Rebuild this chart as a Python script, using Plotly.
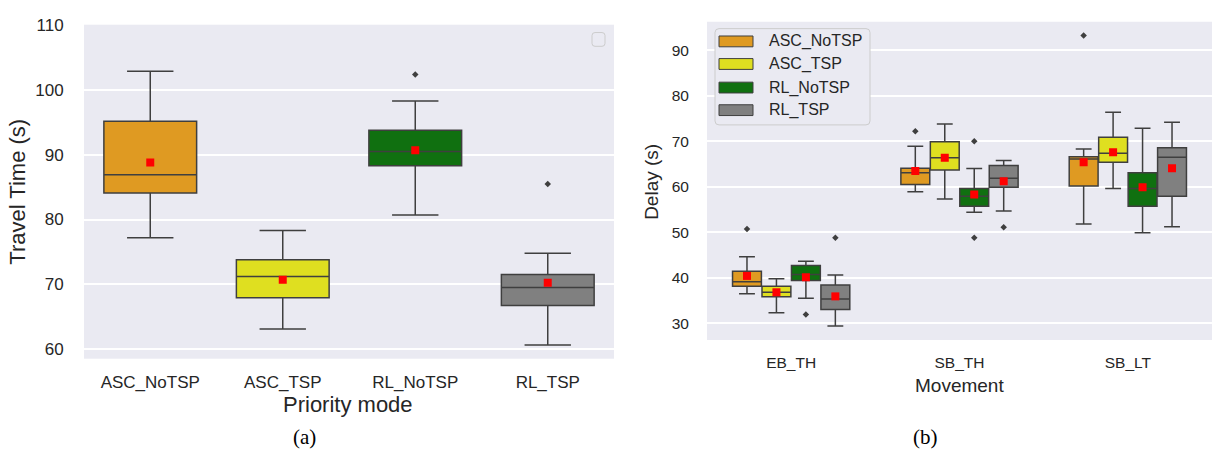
import plotly.graph_objects as go

W, H = 1214, 452

modes = ["ASC_NoTSP", "ASC_TSP", "RL_NoTSP", "RL_TSP"]
colors = ["#DF9A22", "#DFDF20", "#107010", "#808080"]

# (a) Travel time by priority mode
tt_upper = [102.9, 78.3, 98.3, 74.8]
tt_q3 = [95.2, 73.8, 93.8, 71.5]
tt_median = [86.9, 71.2, 90.5, 69.5]
tt_q1 = [84.1, 67.9, 88.3, 66.7]
tt_lower = [77.2, 63.1, 80.7, 60.6]
tt_mean = [88.8, 70.7, 90.7, 70.25]
tt_outliers = [[], [], [102.4], [85.5]]

# (b) Delay by movement; rows = mode, cols = movement
movements = ["EB_TH", "SB_TH", "SB_LT"]
d_upper = [[44.6, 68.9, 68.3], [39.8, 73.8, 76.4], [43.6, 64.0, 72.9], [40.6, 65.8, 74.2]]
d_q3 = [[41.4, 64.1, 66.6], [38.1, 69.9, 70.9], [42.7, 59.6, 63.1], [38.4, 64.7, 68.6]]
d_median = [[39.1, 63.1, 66.1], [36.8, 66.4, 67.4], [40.7, 57.9, 59.6], [35.3, 61.9, 66.5]]
d_q1 = [[38.1, 60.5, 60.2], [35.8, 63.7, 65.4], [39.4, 55.7, 55.7], [33.0, 59.9, 57.9]]
d_lower = [[36.5, 58.9, 51.8], [32.3, 57.3, 59.6], [35.5, 54.4, 49.9], [29.4, 54.7, 51.2]]
d_mean = [[40.4, 63.5, 65.4], [36.8, 66.4, 67.6], [40.1, 58.3, 59.9], [35.9, 61.2, 64.1]]
d_outliers = [[[50.7], [72.2], [93.3]],
              [[], [], []],
              [[31.9], [70.0, 48.8], []],
              [[48.8], [51.1], []]]

LINE = "#3F3F3F"
FONT = "Liberation Sans, Arial, sans-serif"
TICKC = "#262626"


def px(x):
    return x / W


def py(y):
    return 1 - y / H


fig = go.Figure()

# ---------- (a) ----------
for i, m in enumerate(modes):
    fig.add_trace(go.Box(
        x=[i], q1=[tt_q1[i]], median=[tt_median[i]], q3=[tt_q3[i]],
        lowerfence=[tt_lower[i]], upperfence=[tt_upper[i]],
        width=0.7, whiskerwidth=0.5, fillcolor=colors[i],
        line=dict(color=LINE, width=1.5), boxpoints=False,
        showlegend=False, xaxis="x", yaxis="y", hoverinfo="skip"))
    if tt_outliers[i]:
        fig.add_trace(go.Scatter(
            x=[i] * len(tt_outliers[i]), y=tt_outliers[i], mode="markers",
            marker=dict(symbol="diamond", size=5, color=LINE),
            showlegend=False, xaxis="x", yaxis="y"))
fig.add_trace(go.Scatter(
    x=list(range(len(modes))), y=tt_mean, mode="markers",
    marker=dict(symbol="square", size=8, color="red"),
    showlegend=False, xaxis="x", yaxis="y"))

# ---------- (b) ----------
bw = 0.175
for i, m in enumerate(modes):
    off = (i - 1.5) * bw
    xs = [j + off for j in range(len(movements))]
    fig.add_trace(go.Box(
        x=xs, q1=d_q1[i], median=d_median[i], q3=d_q3[i],
        lowerfence=d_lower[i], upperfence=d_upper[i],
        width=bw * 0.98, whiskerwidth=0.55, fillcolor=colors[i],
        line=dict(color=LINE, width=1.5), boxpoints=False,
        showlegend=False, xaxis="x2", yaxis="y2", hoverinfo="skip"))
    ox, oy = [], []
    for j in range(len(movements)):
        for v in d_outliers[i][j]:
            ox.append(j + off)
            oy.append(v)
    if ox:
        fig.add_trace(go.Scatter(
            x=ox, y=oy, mode="markers",
            marker=dict(symbol="diamond", size=5, color=LINE),
            showlegend=False, xaxis="x2", yaxis="y2"))
    fig.add_trace(go.Scatter(
        x=xs, y=d_mean[i], mode="markers",
        marker=dict(symbol="square", size=8, color="red"),
        showlegend=False, xaxis="x2", yaxis="y2"))

tf_a = dict(family=FONT, size=17, color=TICKC)
tf_b = dict(family=FONT, size=15.5, color=TICKC)

fig.update_layout(
    width=W, height=H, margin=dict(l=0, r=0, t=0, b=0),
    paper_bgcolor="white", plot_bgcolor="#EAEAF2",
    showlegend=False, boxmode="overlay",
    xaxis=dict(domain=[px(84), px(614)], anchor="y", range=[-0.5, 3.5],
               tickvals=list(range(len(modes))), ticktext=modes,
               showgrid=False, ticks="outside", ticklen=8, showline=False, zeroline=False,
               tickcolor="rgba(0,0,0,0)", tickfont=tf_a),
    yaxis=dict(domain=[py(357), py(17)], anchor="x", range=[58.5, 110.1],
               dtick=10, showgrid=True, gridcolor="white", gridwidth=1.5,
               ticks="outside", ticklen=16, tickcolor="rgba(0,0,0,0)",
               showline=False, zeroline=False, tickfont=tf_a),
    xaxis2=dict(domain=[px(707), px(1212)], anchor="y2", range=[-0.5, 2.5],
                tickvals=list(range(len(movements))), ticktext=movements,
                showgrid=False, ticks="outside", ticklen=8, showline=False, zeroline=False,
                tickcolor="rgba(0,0,0,0)", tickfont=tf_b),
    yaxis2=dict(domain=[py(338), py(14)], anchor="x2", range=[26.3, 96.3],
                dtick=10, showgrid=True, gridcolor="white", gridwidth=1.5,
                ticks="outside", ticklen=14, tickcolor="rgba(0,0,0,0)",
                showline=False, zeroline=False, tickfont=tf_b),
)

ann = []
title_a = dict(family=FONT, size=22, color=TICKC)
title_b = dict(family=FONT, size=19, color=TICKC)
ann.append(dict(text="Travel Time (s)", x=px(18), y=py(187), xref="paper", yref="paper",
                textangle=-90, showarrow=False, font=title_a, xanchor="center", yanchor="middle"))
ann.append(dict(text="Priority mode", x=px(348), y=py(404), xref="paper", yref="paper",
                showarrow=False, font=title_a, xanchor="center", yanchor="middle"))
ann.append(dict(text="Delay (s)", x=px(652), y=py(177), xref="paper", yref="paper",
                textangle=-90, showarrow=False, font=title_b, xanchor="center", yanchor="middle"))
ann.append(dict(text="Movement", x=px(959), y=py(384), xref="paper", yref="paper",
                showarrow=False, font=title_b, xanchor="center", yanchor="middle"))
cap_font = dict(family="Liberation Serif, Times New Roman, serif", size=21, color="black")
ann.append(dict(text="(a)", x=px(304), y=py(437), xref="paper", yref="paper",
                showarrow=False, font=cap_font, xanchor="center", yanchor="middle"))
ann.append(dict(text="(b)", x=px(925), y=py(437), xref="paper", yref="paper",
                showarrow=False, font=cap_font, xanchor="center", yanchor="middle"))

shapes = []


def path_paper(x0, y0, x1, y1, r):
    rx = r / W
    ry = r / H
    X0, X1 = px(x0), px(x1)
    Y0, Y1 = py(y0), py(y1)
    return (f"M {X0 + rx},{Y0} L {X1 - rx},{Y0} Q {X1},{Y0} {X1},{Y0 - ry} "
            f"L {X1},{Y1 + ry} Q {X1},{Y1} {X1 - rx},{Y1} L {X0 + rx},{Y1} "
            f"Q {X0},{Y1} {X0},{Y1 + ry} L {X0},{Y0 - ry} Q {X0},{Y0} {X0 + rx},{Y0} Z")


# empty legend frame in (a)
shapes.append(dict(type="path", xref="paper", yref="paper",
                   path=path_paper(592, 25, 605, 39, 3),
                   line=dict(color="#CCCCCC", width=1), fillcolor="#EAEAF2"))

# legend in (b)
shapes.append(dict(type="path", xref="paper", yref="paper",
                   path=path_paper(715, 21, 870, 119, 4),
                   line=dict(color="#CCCCCC", width=1), fillcolor="#EAEAF2"))
leg_y = [34, 57, 81, 104]
for i, m in enumerate(modes):
    shapes.append(dict(type="rect", xref="paper", yref="paper",
                       x0=px(719), x1=px(753), y0=py(leg_y[i] + 5.5), y1=py(leg_y[i] - 5.5),
                       fillcolor=colors[i], line=dict(color=LINE, width=1)))
    ann.append(dict(text=m, x=px(767), y=py(leg_y[i]), xref="paper", yref="paper",
                    showarrow=False, xanchor="left", yanchor="middle",
                    font=dict(family=FONT, size=16, color=TICKC)))

fig.update_layout(annotations=ann, shapes=shapes)

fig.write_html("out.html", config={"displayModeBar": False},
               post_script="document.body.style.margin='0';")
